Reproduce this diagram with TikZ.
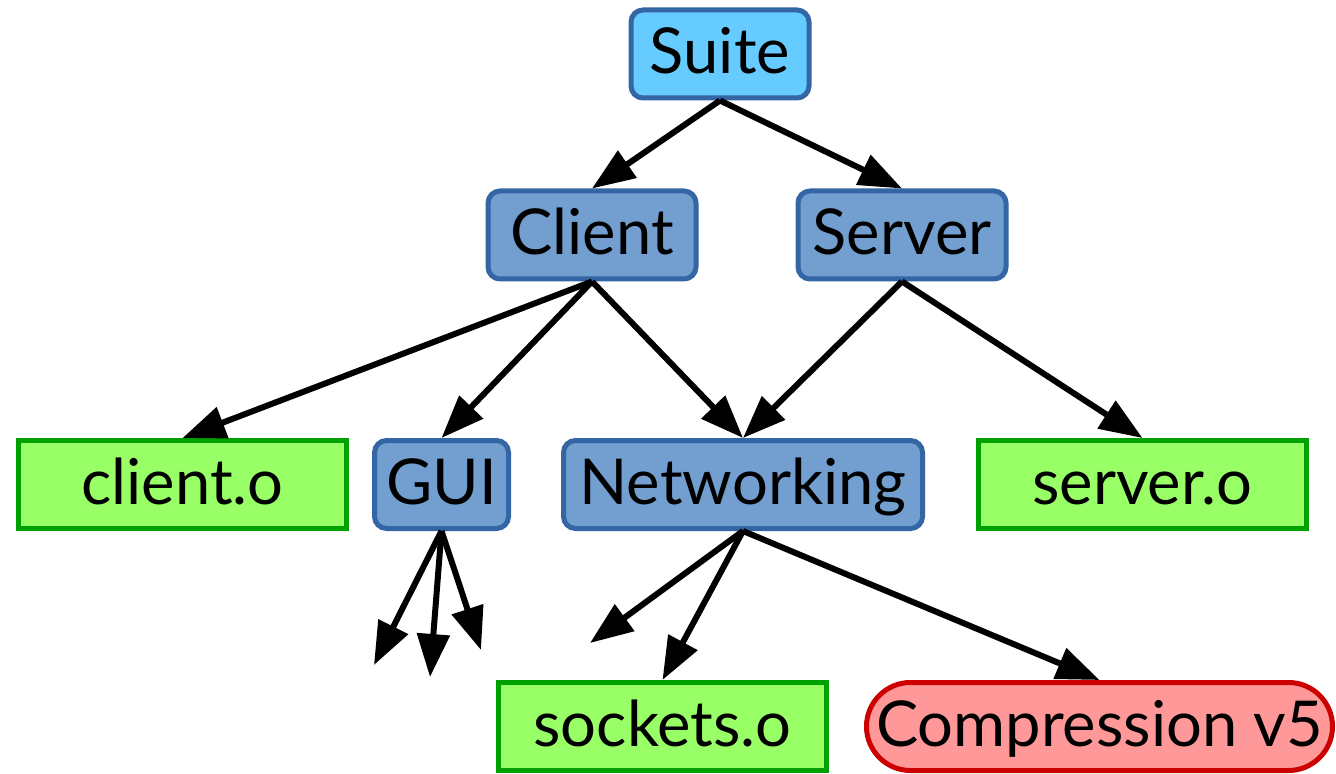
\documentclass[tikz,border=0pt]{standalone}
\usepackage{fontspec}
\setmainfont{Lato}
\definecolor{pkgblue}{RGB}{114,159,207}
\definecolor{pkgedge}{RGB}{52,101,164}
\definecolor{topblue}{RGB}{102,204,255}
\definecolor{objgreen}{RGB}{153,255,102}
\definecolor{objedge}{RGB}{0,160,0}
\definecolor{badred}{RGB}{255,153,153}
\definecolor{badedge}{RGB}{204,0,0}
\usetikzlibrary{arrows.meta,positioning}

\begin{document}
\begin{tikzpicture}[
  pkg/.style={draw=pkgedge,fill=pkgblue,line width=0.1cm,rounded corners=0.24cm,
    minimum height=1.76cm,inner sep=0pt,font=\fontsize{36}{43}\selectfont,
    text height=1.0cm,text depth=0.22cm},
  obj/.style={pkg,draw=objedge,fill=objgreen,rounded corners=0pt},
  dep/.style={-{Triangle[length=0.86cm,width=0.64cm]},line width=0.12cm}
]
  \useasboundingbox (0,0) rectangle (26.72,15.46);
  \node[pkg,fill=topblue,minimum width=3.56cm] (suite) at (14.40,14.38) {Suite};
  \node[pkg,minimum width=4.16cm] (client) at (11.84,10.76) {Client};
  \node[pkg,minimum width=4.16cm] (server) at (18.04,10.76) {Server};
  \node[obj,minimum width=6.56cm] (clientobj) at (3.65,5.77) {client.o};
  \node[pkg,minimum width=2.68cm] (gui) at (8.83,5.77) {GUI};
  \node[pkg,minimum width=7.18cm] (net) at (14.86,5.77) {Networking};
  \node[obj,minimum width=6.56cm] (serverobj) at (22.85,5.77) {server.o};
  \node[obj,minimum width=6.56cm] (socketsobj) at (13.25,0.93) {sockets.o};
  \node[pkg,draw=badedge,fill=badred,rounded corners=0.88cm,minimum width=9.32cm]
    (compress) at (21.99,0.93) {Compression v5};
  % loose ends
  \coordinate (gui1) at (7.48,2.16);
  \coordinate (gui2) at (8.60,1.92);
  \coordinate (gui3) at (9.62,2.46);
  \coordinate (net1) at (11.80,2.60);
  % Arrows
  \foreach \a/\b in {suite/client, suite/server, client/clientobj, client/gui,
    client/net, server/net, server/serverobj, net/socketsobj, net/compress} {
    \draw[dep] (\a.south) -- (\b.north);
  }
  \foreach \c in {gui1, gui2, gui3} {
    \draw[dep] (gui.south) -- (\c);
  }
  \draw[dep] (net.south) -- (net1);
\end{tikzpicture}
\end{document}
